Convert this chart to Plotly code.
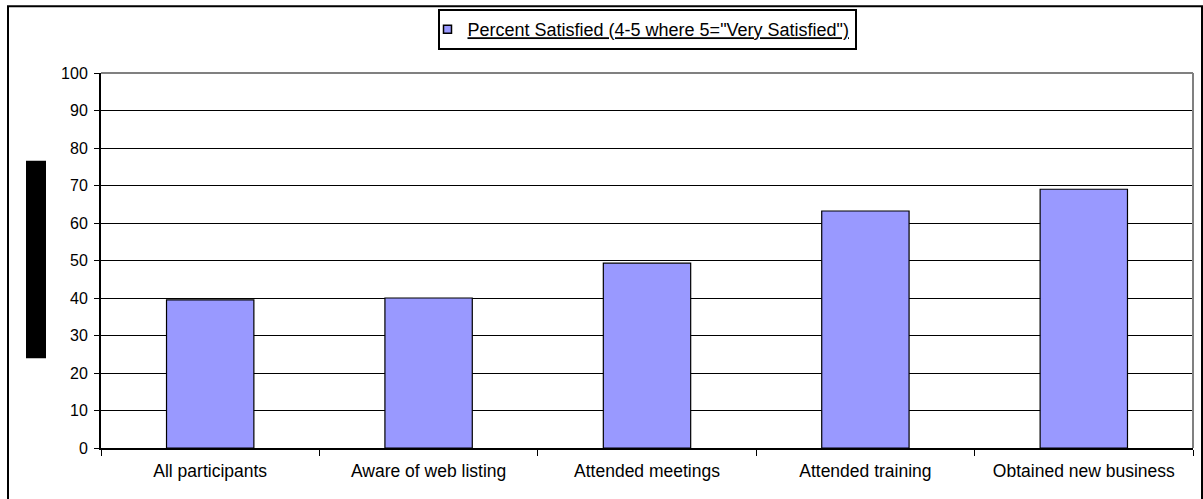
import plotly.graph_objects as go

categories = ["All participants", "Aware of web listing", "Attended meetings",
              "Attended training", "Obtained new business"]
percent_satisfied = [39.5, 40.0, 49.3, 63.2, 69.0]
series_name = 'Percent Satisfied (4-5 where 5="Very Satisfied")'
y_ticks = [0, 10, 20, 30, 40, 50, 60, 70, 80, 90, 100]

W, H = 1203, 499
L, R, T, B = 101, 10, 72, 51
pw, ph = W - L - R, H - T - B

def px_x(x):
    return (x - L) / pw

def px_y(y):
    return 1 - (y - T) / ph

font = "Liberation Sans, Arial, sans-serif"
bar_color = "#9999FF"

fig = go.Figure()
fig.add_trace(go.Bar(
    x=categories, y=percent_satisfied, name=series_name,
    marker=dict(color=bar_color, line=dict(color="black", width=1.2)),
    width=0.4, showlegend=False,
))
# legend entry with a small square symbol
fig.add_trace(go.Scatter(
    x=[None], y=[None], mode="markers", name="<u>" + series_name + "</u>",
    marker=dict(symbol="square", size=8, color=bar_color,
                line=dict(color="black", width=1.5)),
    showlegend=True,
))

fig.update_layout(
    width=W, height=H,
    margin=dict(l=L, r=R, t=T, b=B),
    paper_bgcolor="white", plot_bgcolor="white",
    font=dict(family=font, size=12, color="black"),
    showlegend=True,
    legend=dict(
        x=0.5, xanchor="center", y=px_y(9), yanchor="top",
        bordercolor="black", borderwidth=2, bgcolor="white",
        font=dict(family=font, size=18, color="black"),
        itemwidth=30, tracegroupgap=0, valign="top",
        indentation=-12,
    ),
    xaxis=dict(
        type="category", tickson="boundaries", ticks="outside", ticklen=6,
        tickcolor="black", tickwidth=1, showline=True, linecolor="black",
        linewidth=2, showgrid=False, tickfont=dict(size=17.5, family=font),
        ticklabelstandoff=6, range=[-0.5, 4.5],
    ),
    yaxis=dict(
        range=[0, 100], tickvals=y_ticks, ticks="outside", ticklen=5,
        tickcolor="black", tickwidth=1, showline=True, linecolor="black",
        linewidth=2, showgrid=True, gridcolor="black", gridwidth=1,
        tickfont=dict(size=16, family=font), ticklabelstandoff=3,
        zeroline=False,
    ),
    bargap=0.6,
    shapes=[
        dict(type="line", xref="paper", yref="paper", x0=0, x1=1, y0=1, y1=1,
             line=dict(color="#808080", width=2), layer="above"),
        dict(type="line", xref="paper", yref="paper", x0=1, x1=1, y0=0, y1=1,
             line=dict(color="#808080", width=2), layer="above"),
        dict(type="rect", xref="paper", yref="paper",
             x0=px_x(8), x1=px_x(1202), y0=px_y(530), y1=px_y(5),
             line=dict(color="black", width=2), fillcolor="rgba(0,0,0,0)"),
        dict(type="rect", xref="paper", yref="paper",
             x0=px_x(26), x1=px_x(46), y0=px_y(358), y1=px_y(160),
             line=dict(width=0), fillcolor="black"),
    ],
)

fig.write_html("out.html")
